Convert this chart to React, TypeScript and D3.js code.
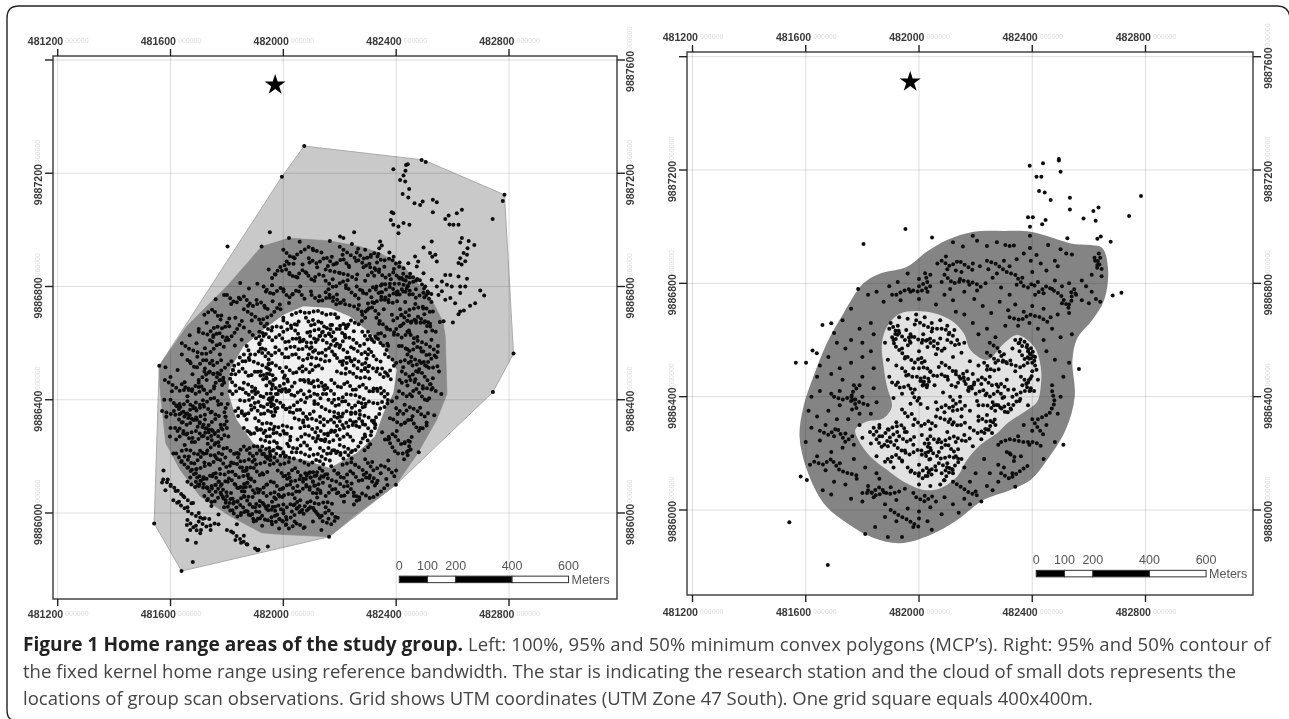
import React from 'react';
import * as d3 from 'd3';

// all map coordinates are stored as metres from this UTM origin
const BASE_E = 481000;
const BASE_N = 9886000;

const eastTicks = [481200, 481600, 482000, 482400, 482800];
const northTicks = [9886000, 9886400, 9886800, 9887200, 9887600];
const scaleStops = [0, 100, 200, 400, 600];

const mcp100: number[][] = [[1074,1296],[1497,1247],[1784,1124],[1816,563],[1743,427],[1399,100],[1162,-84],[639,-205],[542,-37],[560,520],[995,1188]];
const mcp95: number[][] = [[560,520],[657,659],[802,803],[923,941],[1020,971],[1165,961],[1272,941],[1343,918],[1426,871],[1526,753],[1565,677],[1574,624],[1580,421],[1544,330],[1473,206],[1399,100],[1251,-11],[1162,-84],[1059,-79],[995,-76],[923,-70],[811,-11],[705,59],[634,153],[583,247],[562,447]];
const mcp50: number[][] = [[1000,700],[1071,730],[1165,724],[1236,694],[1307,636],[1366,577],[1402,506],[1390,424],[1355,353],[1325,271],[1260,212],[1165,159],[1071,189],[976,200],[893,247],[834,330],[805,424],[811,506],[858,588],[929,647]];

const kernel95: number[][] = [[804,800],[863,835],[958,859],[1028,912],[1099,953],[1194,982],[1300,985],[1394,982],[1477,959],[1536,941],[1607,935],[1648,924],[1668,847],[1654,741],[1612,671],[1559,606],[1542,530],[1550,400],[1518,283],[1453,177],[1394,106],[1323,71],[1229,36],[1135,-35],[1040,-88],[934,-117],[840,-99],[745,-46],[663,24],[604,142],[578,259],[592,365],[627,471],[674,588],[733,694]];
const kernel50: number[][] = [[934,694],[1028,700],[1111,671],[1158,624],[1182,565],[1241,530],[1300,588],[1347,618],[1406,577],[1430,506],[1430,436],[1418,383],[1382,353],[1312,306],[1276,271],[1217,230],[1170,177],[1135,118],[1076,77],[1017,71],[946,100],[887,142],[828,189],[786,247],[775,283],[816,312],[875,324],[904,365],[887,436],[875,506],[869,588],[887,647]];

// scan locations. Only a sample of the thousands of observations:
// where dots touch and merge, one "chain" (flat e,n,e,n... list) stands in for that run of dots
const leftDots: number[][] = [
[1074,1296],[995,1188],[1390,1214],[1435,1229],[1441,1232],[1433,1209],[1426,1192],[1414,1176],[1432,1171],[1446,1144],[1423,1127],[1443,1114],[1465,1094],[1485,1088],[1494,1100],[1530,1106],[1544,1098],[1530,1062],[1384,1062],[1390,1059],[1381,1035],[1390,1018],[1408,1012],[1426,1024],[1447,1018],[1408,988],[1574,1038],[1586,1051],[1589,1019],[1603,1018],[1621,1018],[1633,1071],[1615,1059],[1742,1038],[1778,1102],[1784,1124],[1633,971],[1657,961],[1677,947],[1653,935],[1627,955],[1639,918],[1651,912],[1627,900],[1645,889],[1621,883],[1632,878],[1526,959],[1497,938],[1539,912],[1520,918],[1544,888],[1528,905],[1698,786],[1712,768],[1680,741],[1662,732],[1627,712],[1621,702],[1640,715],[1601,673],[1568,677],[1574,841],[1592,841],[1562,818],[1580,806],[1597,800],[1621,835],[1651,827],[1627,800],[1645,800],[1592,759],[1627,777],[1609,741],[1467,906],[1478,888],[1443,882],[1473,871],[1497,847],[1526,824],[1544,800],[1503,800],[1515,777],[1550,770],[1562,783],[1574,753],[1343,959],[1349,945],[1340,935],[1251,992],[1201,977],[1213,971],[952,992],[802,941],[1816,563],[1743,427],[1399,100],[1162,-84],[639,-205],[679,-173],[542,-37],[560,520],
[1020,971],[1058,958],[1165,961],[1243,950],[1106,928],[1135,920],[1172,905],[1210,912],[1265,933],[1290,930],[1310,905],[1337,915],[1376,920],[1391,905],[1412,885],[1012,888],[1040,900],[1068,878],[1093,885],[1120,868],[1158,872],[1186,880],[1232,873],[1258,890],[1284,868],[1305,880],[1332,885],[1358,870],[1392,862],[1425,845],[1448,833],[923,941],[972,842],[948,860],[995,856],[1022,843],[1050,832],[1082,848],[1110,820],[1142,838],[1175,826],[1200,848],[1228,822],[1262,842],[1290,820],[1322,838],[1350,808],[1381,826],[1410,832],[1440,802],[1470,790],[1500,762],[1525,745],[847,812],[878,793],[908,810],[938,782],[960,804],[1000,790],[1032,772],[1060,800],[1098,782],[1128,766],[1160,790],[1190,772],[1222,795],[1255,770],[1280,785],[1312,762],[1345,780],[1372,752],[1402,772],[1432,745],[1468,738],[1496,722],[1530,712],[1555,675],[760,755],[790,770],[815,738],[842,760],[875,732],[905,752],[935,725],[962,748],[990,720],[1020,742],[1268,735],[1298,718],[1322,742],[1356,720],[1385,700],[1414,720],[1445,698],[1470,680],[1500,702],[1520,668],[1540,640],
[700,650],[728,672],[752,628],[780,698],[808,660],[830,690],[860,655],[888,680],[915,640],[942,668],[668,628],[692,600],[722,582],[748,605],[775,560],[800,620],[828,592],[852,612],[1340,668],[1368,650],[1392,630],[1418,662],[1445,645],[1475,622],[1505,640],[1525,612],[1548,590],[1410,590],[1440,578],[1462,600],[1490,570],[1518,560],[1542,550],[640,560],[668,535],[695,552],[722,510],[748,538],[775,490],[582,515],[600,480],[625,505],[650,462],[678,490],[700,445],[728,470],[755,448],[782,420],[1425,515],[1452,535],[1478,498],[1508,518],[1530,476],[1552,500],[1412,470],[1440,450],[1468,472],[1495,440],[1522,455],[1560,420],[578,400],[605,430],[632,385],[660,412],[688,370],[715,398],[742,355],[770,382],[795,340],[585,340],[612,360],[640,320],[668,345],[696,305],[722,330],[750,290],[778,312],[805,270],[1402,408],[1430,382],[1456,412],[1485,372],[1510,398],[1535,345],[1378,335],[1405,350],[1432,320],[1458,342],[1486,300],[1508,320],[1350,285],[1375,262],[1402,290],[1430,250],[1455,268],[1480,215],
[598,270],[625,290],[650,240],[678,265],[705,220],[732,245],[760,198],[788,228],[815,178],[842,208],[870,160],[898,188],[925,140],[952,170],[610,210],[638,180],[665,200],[692,155],[720,178],[748,130],[775,155],[803,110],[830,135],[858,90],[885,118],[912,72],[940,100],[968,55],[995,85],[1022,125],[1050,95],[1078,140],[1105,110],[1135,130],[1165,95],[1195,140],[1225,110],[1255,170],[1285,135],[1315,180],[1345,140],[1372,185],[1400,150],[1428,190],[1300,90],[1330,105],[1365,120],[1250,60],[1215,40],[1190,70],[1150,20],[1120,55],[1090,15],[1060,45],[1030,5],[1000,30],[970,-10],[940,15],[910,-20],[880,30],[850,0],[820,50],[790,20],[760,75],[730,45],[700,95],[670,125],[1010,-40],[985,-55],[1040,-30],[1075,-50],[958,-30],[925,-45],[895,-30],[1105,-30],[1160,-20],[1135,-60],
[575,150],[590,118],[570,108],[600,95],[582,80],[618,78],[645,60],[630,40],[660,20],[680,35],[700,0],[715,-20],[745,25],[770,-5],[690,-45],[670,-60],[658,-42],[742,-60],[708,-60],[835,-40],[860,-80],[815,-65],[830,-95],[850,-105],[870,-110],[900,-125],[908,-132],[912,-130],[945,-118],[800,-60],[660,-95],[690,-105],[770,-40],
[1000,690],[1048,665],[1105,682],[1190,690],[1222,662],[958,645],[1072,612],[1128,625],[1218,630],[1250,642],[915,600],[972,585],[1090,560],[1150,555],[1240,585],[860,560],[948,525],[1068,500],[1098,525],[1222,510],[1392,520],[822,505],[942,492],[1002,478],[1092,430],[1152,420],[1385,395],[810,430],[960,385],[1110,385],[1320,320],[830,360],[1070,320],[1310,275],[880,285],[1240,215],[1000,210],[1170,165]
];

const leftChains: number[][] = [
[1490,1247,1505,1240],
// 50% core
[880,640,905,615,930,640,960,610,985,630,1010,600,1040,620,1070,595],[900,560,930,585,955,555,985,575,1010,545,1040,565,1062,540],[1080,690,1100,660,1130,680,1150,650,1175,670,1160,630,1190,610],[1280,640,1300,610,1330,625,1350,590,1375,600,1360,560,1390,540],[1250,580,1280,560,1305,580,1325,545,1355,530],[830,490,855,510,880,480,905,505,930,470,955,495,980,465],[1010,515,1040,490,1065,520,1095,495,1120,525,1150,500],[1180,560,1205,530,1230,555,1250,520,1280,500,1310,525],[820,420,850,445,875,415,900,440,925,405,950,430],[980,420,1010,440,1035,410,1060,435,1085,405,1115,425,1140,395],[1170,470,1200,440,1225,465,1250,430,1280,455,1310,425,1340,445,1370,420],[1160,400,1190,375,1215,400,1245,370,1270,395,1300,365],[840,370,870,345,895,375,925,345,950,365,975,335],[1000,380,1030,350,1055,370,1080,340,1110,360],[1130,340,1160,320,1185,345,1210,310,1240,330,1265,300,1290,320],[860,300,890,275,915,300,945,265,975,290],[1000,290,1030,265,1010,240,1045,225,1075,250,1100,220],[1120,300,1150,275,1175,295,1200,260,1230,280,1255,245],[1130,230,1160,205,1185,225,1215,190],[925,235,955,215,985,235,1010,200],[1060,185,1090,170,1120,190,1150,165],[1000,680,1030,660,1060,680],[1100,585,1130,560,1160,585,1190,550],[960,530,990,510,1015,470],[1290,270,1310,240,1280,215],[1140,640,1120,610,1095,625,1075,650],[1290,690,1265,665,1240,680,1220,650],[870,590,885,555,860,530,845,550],[1330,500,1355,480,1380,505],[1220,620,1200,590,1175,610],[1060,470,1090,460,1120,470,1150,450,1140,420],[940,450,965,470,950,395,980,370,960,340],[1200,340,1220,360,1260,350,1300,340,1330,310],
[1030,700,1060,712,1085,705,1120,715,1150,700,1180,705,1205,680],[930,625,915,595,925,565,950,540,945,505],[1000,640,1025,655,1050,640,1060,610,1090,600,1120,605],[1200,650,1215,625,1245,615,1270,590,1295,600],[1300,560,1290,530,1320,510,1350,510,1375,480,1390,460],[1190,500,1215,490,1240,500,1265,475,1290,480,1320,470],[1180,420,1160,440,1135,450,1110,445,1090,470,1060,470],[860,460,885,450,905,425,885,400,860,395,840,400],[920,500,945,470,970,440,1000,455,1025,470],[960,400,985,395,1005,365,1030,375,1060,400,1090,385],[1110,395,1135,375,1160,360,1190,355,1215,335],[1240,350,1270,360,1300,395,1330,385,1360,395],[900,335,925,315,950,320,975,300,1000,310,1030,300],[1060,300,1085,310,1110,290,1135,255,1165,250,1190,265],[1200,240,1225,230,1250,215,1270,240,1295,290],[1030,215,1060,215,1090,200,1120,210,1150,190,1180,180],[920,260,950,250,975,255,985,220],[870,330,855,355,830,335],[1340,350,1320,330,1330,300,1310,300],
[1010,580,1035,590,1060,575,1085,590,1110,565],[1140,610,1165,595,1190,590,1215,575,1240,560],[1300,500,1275,530,1250,545,1225,530,1200,520],[880,540,905,530,930,520,960,500],[1070,540,1095,550,1125,545,1150,535,1175,540],[1040,460,1015,425,990,440,965,410,935,395],[1180,400,1205,405,1225,420,1260,415,1290,400],[1320,440,1350,420,1375,395,1360,375,1330,365],[830,450,810,470,825,520,850,530],[885,380,910,395,925,370,945,385,975,365],[1040,335,1065,325,1095,335,1125,325,1150,305],[1215,300,1245,310,1270,335,1300,300,1320,280],[1180,320,1200,295,1165,285,1145,255,1115,265],[905,300,935,290,960,300,985,275,1020,285],[1050,260,1080,280,1105,265,1125,240],[1160,230,1190,210,1220,215,1245,190],[950,230,980,205,1020,195,1050,190],[1095,640,1125,650,1150,625,1180,640,1210,670,1240,650],[1300,640,1320,600,1340,640,1365,620],[920,670,945,650,970,660,1000,655],
// ring, south and southwest (densest)
[800,230,830,205,860,235,890,200,920,220,950,190,975,165],[740,170,770,195,800,160,830,180,860,145,890,165,920,130,950,150],[690,140,720,115,750,140,780,100,810,125,840,85,870,110,900,70],[930,90,960,115,990,80,1020,105,1050,70,1080,95,1110,65,1140,85],[800,60,830,35,860,60,890,20,920,45,950,5,980,30,1010,-15],[1040,30,1070,-5,1100,25,1130,-15,1160,10,1190,-20],[720,60,750,35,780,65,810,10,840,-15,870,10,900,-30,930,-10],[960,-40,990,-20,1020,-55,1050,-35,1080,-60],[650,200,680,170,710,200,740,230,770,250,800,285],[620,260,650,285,680,245,710,270,740,300,770,270],[630,330,660,310,690,335,720,295,750,325,780,350],[600,400,630,370,660,395,690,360,720,385,750,410,780,385],[640,455,670,430,700,460,730,420,760,445],[1180,150,1210,120,1240,150,1270,110,1300,130,1330,90],[1150,60,1180,90,1210,55,1240,85,1270,45],[980,150,1010,130,1040,160,1070,120,1100,150,1130,120,1160,140],[830,100,860,70,880,130,850,165],[960,40,990,60,1030,70,1060,20],[660,110,690,90,720,130],[1090,140,1110,100,1140,60],
[640,600,665,580,690,570,720,560,745,570,770,600,800,580],[700,640,730,630,760,660,790,650,810,690],[580,470,610,450,635,430,665,440,690,420,720,440],[570,360,600,350,625,345,650,360,665,330,700,340,730,350],[600,300,630,300,660,280,690,290,720,270,750,255,780,230],[640,220,665,225,690,205,720,215,750,200,775,215,800,190],[690,110,715,90,745,85,770,110,790,75,820,70],[780,300,800,320,790,360,805,390],[830,210,850,180,880,190,905,170,935,180,960,215],[860,60,890,55,910,90,940,60,965,75,1000,55],[1000,10,1030,35,1060,0,1090,45,1120,30,1150,40,1180,30],[820,10,850,30,880,-10,910,10,940,-30,970,-5],[1080,120,1110,130,1130,160,1160,120,1190,110,1220,90,1250,110],[1250,30,1280,70,1310,50,1340,70,1370,100],[1290,190,1320,150,1350,170,1380,150,1400,120],
[880,230,905,240,930,200,965,200,990,170,1020,180],[760,140,790,135,815,150,840,125,870,135,905,105],[1000,130,1030,110,1060,120,1090,90,1120,100,1150,110],[730,90,760,100,790,50,815,30,850,45],[900,20,930,30,965,20,990,-30,1020,-20,1050,0],[660,160,690,130,720,100,750,60],[620,210,650,170,680,150,710,160,750,180],[690,330,720,310,745,270,770,290,800,300],[620,380,650,340,690,390,730,370,770,340],[1210,170,1240,180,1270,160,1310,130,1340,110],[1110,10,1140,-30,1170,-40,1200,-10],[574,118,600,100,630,75,655,50,680,30],[610,45,640,25,669,0,700,-15,751,-23],[700,-30,730,-50,760,-35],[660,-25,685,-55,710,-75],[822,-70,850,-95,881,-117],
// ring, north and east
[1260,920,1290,895,1320,920,1350,890,1380,900,1410,870,1440,860],[1300,840,1330,860,1360,830,1390,850,1420,820,1450,845,1480,810],[1350,780,1380,800,1410,770,1440,795,1470,760,1500,780,1525,745],[1260,800,1290,770,1320,800,1350,760,1380,740,1410,750],[1090,900,1120,880,1150,905,1180,875,1210,900,1240,860],[1010,860,1040,830,1070,860,1100,825,1130,845],[1150,820,1180,795,1210,820,1240,780,1270,755],[930,800,960,770,990,795,1020,760,1050,790,1080,750],[800,770,830,740,860,765,890,730,920,745,950,715],[1100,770,1130,745,1160,765,1190,735,1220,755],[1390,680,1420,700,1450,670,1480,695,1510,660],[1330,690,1360,660,1390,640,1420,620,1450,640],[1420,590,1450,570,1480,590,1510,555],[1420,500,1450,480,1480,510,1510,470,1530,440],[1410,430,1440,410,1470,440,1500,400,1530,410],[1390,330,1420,310,1450,335,1480,290,1510,310],[1360,260,1390,280,1420,240,1450,260,1440,200],[740,610,770,640,800,605,830,640,860,690],[720,700,750,720,780,680],[660,540,690,510,720,545,750,520,780,540],[760,460,790,480,780,440],[1280,700,1310,730,1340,700],
[1400,370,1425,350,1450,375,1475,360,1500,340,1520,360],[1400,530,1430,540,1460,520,1490,530,1520,510,1550,520],[1420,460,1450,470,1490,450,1510,440,1545,430],[1440,640,1470,610,1500,600,1530,580,1560,560],[1400,650,1440,680,1480,670,1510,680,1530,640],[1370,260,1400,210,1430,210,1460,230],[1000,930,1030,900,1060,920,1090,940,1120,925],[1200,940,1240,910,1270,890,1300,870,1340,860],[1150,780,1180,760,1210,740,1250,730,1280,710],[1300,740,1340,750,1380,770,1420,790,1450,770],[960,830,990,870,1020,880,1050,880],[860,720,890,700,920,680,960,700,990,740],
[1420,830,1450,810,1480,830,1500,790,1530,770],[1330,800,1370,810,1410,810,1450,800],[1150,860,1190,850,1230,840,1270,820],[1440,560,1470,540,1510,530,1540,560],[1420,700,1450,720,1500,730,1530,700],[720,500,760,490,790,510,820,540],[700,470,740,500,790,460]
];

const rightDots: number[][] = [
[1494,1239],[1494,1234],[1438,1224],[1391,1215],[1500,1194],[1415,1176],[1432,1176],[1424,1126],[1444,1121],[1465,1094],[1533,1102],[1533,1061],[1784,1108],[1742,1038],[1634,1068],[1616,1055],[1581,1029],[1624,1021],[1447,1024],[1435,1009],[1385,1033],[1402,1033],[1392,1000],[952,992],[1046,962],[804,939],[659,653],[690,659],[624,563],[639,553],[565,520],[601,520],[1565,498],[1684,757],[1715,767],[1677,947],[1642,965],[1630,957],[1524,959],[582,118],[604,106],[542,-43],[678,-194],
[1190,968],[1120,945],[1155,930],[1205,950],[1240,932],[1275,945],[1305,935],[1320,932],[1335,934],[1392,968],[1392,925],[1456,935],[1500,920],[1520,905],[1540,902],[1480,880],[1490,860],[1095,895],[1065,870],[1100,850],[1130,845],[1150,840],[1190,870],[1215,860],[1245,850],[1275,835],[1300,880],[1320,860],[1345,885],[1370,905],[1395,880],[1415,900],[1430,870],[1450,845],[1480,810],[1505,790],[1575,810],[1590,790],[1610,830],[1645,825],[1610,770],[1625,745],[1640,735],[1600,730],[1622,880],[1635,905],[1640,890],[1630,865],[1040,830],[1000,815],[960,835],[925,805],[895,790],[1080,805],[1110,780],[1145,815],[1178,795],[1205,775],[1235,800],[1260,820],[1290,785],[1320,760],[1345,795],[1365,820],[1400,840],[1420,805],[1440,765],[1470,780],[1530,800],[1555,760],[1575,740],[1505,730],[1530,695],[1490,690],[1465,680],[1440,710],[1400,720],[1370,700],[1340,725],[1315,705],[1285,735],[1255,695],[1225,720],[1195,745],[1160,770],[1120,740],[1090,760],[1060,725],[1030,770],[1000,745],[970,770],[935,740],[905,760],[875,735],[850,770],[820,760],[785,780],[760,710],[730,670],[790,640],[830,660],[840,620],[800,590],[760,600],[740,570],[700,625],[710,590],[680,540],[650,510],[640,470],[690,480],[720,500],[760,520],[800,540],[830,560],[840,500],[800,470],[770,440],[730,460],[720,420],[690,410],[650,420],[620,400],[610,350],[640,330],[680,350],[720,370],[760,385],[800,400],[840,430],[850,380],[830,340],[790,340],[750,320],[710,320],[670,300],[620,290],[600,240],[650,245],[700,260],[740,270],[770,230],[790,300],[840,290],[730,220],[690,205],[640,190],[615,160],[670,140],[720,165],[770,180],[810,150],[850,130],[900,170],[700,100],[660,70],[690,55],[740,90],[780,110],[820,85],[860,110],[900,80],[950,75],[980,60],[1020,50],[1060,30],[1090,45],[1120,20],[1160,40],[1200,65],[1240,85],[1280,100],[1340,82],[760,40],[800,30],[840,45],[880,20],[920,35],[960,5],[1000,-5],[1040,10],[1080,-15],[1045,-70],[1030,-40],[920,-40],[880,-25],[845,-60],[810,-85],[890,-95],[940,-95],[980,-60],[1000,-30],[1140,-10],[1180,20],[1220,30],[1260,70],[1440,180],[1480,240],[1510,230],[1450,300],[1490,340],[1500,400],[1470,440],[1510,470],[1530,520],[1480,530],[1450,560],[1500,610],[1540,620],[1470,640],[1440,600],[1420,640],[1390,660],[1350,650],[1305,650],[1270,610],[1240,640],[1210,620],[1190,660],[1160,690],[1130,700],[1400,280],[1370,300],[1350,260],[1390,230],[1360,190],[1320,200],[1280,230],[1300,150],[1330,130],[1280,160],[1250,130],[1230,180],[1200,130],[1180,100],
[930,680],[960,675],[990,690],[1020,680],[1045,660],[1075,670],[1100,650],[1125,635],[895,640],[925,650],[955,635],[985,655],[1015,620],[1045,630],[1075,605],[1105,620],[1135,600],[1160,590],[880,590],[910,600],[940,570],[970,590],[1000,560],[1030,575],[1060,550],[1090,570],[1120,540],[1150,555],[1180,525],[1210,510],[1240,495],[1270,520],[1300,550],[1330,570],[1355,590],[1385,560],[1410,540],[890,530],[920,510],[950,535],[980,500],[1010,520],[1040,490],[1070,505],[1100,470],[1130,490],[1160,455],[1190,480],[1220,445],[1250,470],[1280,435],[1310,460],[1340,490],[1370,510],[1400,490],[1420,460],[1395,430],[1365,440],[1335,425],[895,470],[925,450],[955,475],[985,425],[1055,440],[1085,415],[1115,440],[1145,400],[1175,420],[1205,385],[1235,405],[1265,370],[1295,395],[1325,355],[1355,385],[1385,370],[910,395],[940,410],[970,375],[1000,395],[1030,360],[1060,380],[1090,345],[1120,365],[1150,330],[1180,350],[1210,315],[1240,335],[1270,300],[860,300],[890,285],[920,310],[950,275],[980,300],[1010,265],[1040,285],[1070,250],[1100,275],[1130,240],[1160,265],[1190,225],[1220,250],[800,255],[830,235],[860,260],[890,225],[920,245],[950,210],[980,230],[1010,195],[1040,180],[1070,205],[1100,165],[1130,190],[1160,150],[850,190],[880,170],[910,150],[940,175],[970,135],[1000,160],[1030,120],[1060,140],[1090,105],[1120,130],[1000,90],[1040,85],[1075,90]
];

const rightChains: number[][] = [
[1005,455,1022,435,1040,460,1020,470,1010,440,1035,430],[1165,445,1185,425,1195,445,1170,420],[1030,250,1040,220,1025,190,1045,170],[1020,235,1048,205],[930,625,950,600,975,615,960,580],[905,610,935,640],[1355,560,1375,530,1395,550,1380,510],[1360,470,1385,450,1400,475,1375,440,1395,420],[1110,400,1130,375,1150,385],[1530,725,1542,745,1535,765,1548,780,1555,755],[1385,785,1400,800,1415,785],[1620,890,1640,870,1628,855,1648,850],[960,540,985,520,1005,540,1030,515],[1200,410,1225,425,1250,400,1280,420,1305,395],[1260,380,1290,360,1320,375],[985,320,1010,295,1035,315,1060,295],[930,260,960,240,985,260],[1080,220,1100,235,1120,205,1150,220],[1180,290,1210,270,1240,290,1265,265],[860,290,840,265,815,285],[820,70,850,50,880,65],[990,45,1020,30,1050,50],[1310,205,1340,185,1330,160],[1400,320,1420,290,1440,265],[1010,590,1040,605,1070,585],[940,355,960,330,985,345],[1110,320,1140,295,1165,310],[1130,435,1150,470,1180,460],[1000,130,1030,150,1050,115],[890,180,920,195,950,160],[1250,590,1280,570,1300,520,1330,530],[1400,520,1380,590,1345,610],[790,440,760,410,780,360,750,350],[1000,790,1030,805,1020,840],
[900,660,925,620,910,585,935,560,960,530],[990,670,1020,650,1050,640,1090,640,1120,615],[970,620,1000,600,1030,600,1055,575,1085,560],[1000,500,1025,505,1055,470,1085,480,1110,450],[905,450,935,430,965,440,985,395,1010,370],[1065,355,1095,370,1120,350,1150,355,1170,375],[1195,450,1225,470,1255,440,1290,445,1320,420],[1240,555,1270,530,1305,520,1340,510,1370,500],[1340,600,1360,580,1400,570,1410,510,1420,480],[1280,370,1310,340,1340,380,1370,400],[900,240,930,215,965,195,1000,215,1025,200],[850,250,870,220,900,260,930,280],[960,150,985,130,1015,110,1040,140,1070,165,1100,150],[1040,260,1070,235,1100,250,1125,260,1160,240,1190,260],[1150,180,1125,155,1100,125,1085,100],[1210,330,1240,310,1270,320,1230,270],
[1100,600,1130,580,1150,590],[940,500,970,470,1000,470,1030,440],[1080,520,1110,500,1140,470,1170,490],[1230,520,1260,490,1290,500],[1330,400,1370,420,1410,420],[870,260,900,290,940,300,960,270],[1050,200,1080,180,1110,190,1140,180],[1080,130,1110,150,1130,130],[1060,330,1090,320,1120,300],[1210,370,1240,370,1270,350],
[700,400,730,390,760,400,790,380,820,370],[650,280,680,265,710,290,740,240,770,265],[630,170,660,160,690,180,720,140,750,130,790,120],[800,60,830,60,860,80,890,55,930,65],[900,0,930,-20,960,-35,1000,-60],[1120,100,1150,80,1180,60,1210,50],[1290,130,1320,110,1360,140,1390,160],[1290,240,1320,250,1370,240,1410,240,1440,220],[1420,320,1460,340,1480,380,1470,420],[1080,880,1110,860,1140,880,1170,860,1200,840],[1240,880,1270,870,1310,840,1340,830,1370,790],[1090,830,1120,800,1160,810,1200,800,1230,780],[1320,680,1360,670,1390,690,1430,680,1460,660],[1410,760,1450,790,1500,760,1530,710],[920,760,960,780,1000,770,1040,790]
];

const W = 1289;
const H = 719;
const blackStar = d3.symbol(d3.symbolStar, 136)();

type PanelProps = {
  frame: [number, number, number, number];
  xRange: [number, number];
  yRange: [number, number];
  topY: number;
  bottomY: number;
  star: [number, number];
  barStart: [number, number];
  children?: (area: (p: number[][]) => string, smooth: (p: number[][]) => string) => React.ReactNode;
  dots: number[][];
  chains: number[][];
  leftLabelX: number;
  rightLabelX: number;
};

function Panel({ frame, xRange, yRange, topY, bottomY, star, barStart, children, dots, chains, leftLabelX, rightLabelX }: PanelProps) {
  const x = d3.scaleLinear().domain([481200, 482800]).range(xRange);
  const y = d3.scaleLinear().domain([9886000, 9887600]).range(yRange);
  const px = (d: number[]) => x(BASE_E + d[0]);
  const py = (d: number[]) => y(BASE_N + d[1]);
  const area = (p: number[][]) => d3.line<number[]>().x(px).y(py).curve(d3.curveLinearClosed)(p) as string;
  const smooth = (p: number[][]) => d3.line<number[]>().x(px).y(py).curve(d3.curveCatmullRomClosed.alpha(0.5))(p) as string;
  const run = d3.line<number[]>().x(px).y(py);
  const toPairs = (flat: number[]) => flat.flatMap((v, i) => (i % 2 === 0 ? [[v, flat[i + 1]]] : []));
  const [fx0, fy0, fx1, fy1] = frame;
  const labelFont = { fontFamily: '"Liberation Sans", Arial, sans-serif', fontSize: 10.6, fontWeight: 700, fill: '#3a3a3a' };
  const ghostFont = { fontFamily: '"Liberation Sans", Arial, sans-serif', fontSize: 7, fill: '#dcdcdc' };
  const barScale = d3.scaleLinear().domain([0, 600]).range([x(barStart[0]), x(barStart[0] + 600)]);
  const barY = y(barStart[1]);
  return (
    <g>
      {children && children(area, smooth)}
      {eastTicks.map((t) => (
        <line key={t} x1={x(t)} x2={x(t)} y1={fy0} y2={fy1} stroke="#dedede" strokeWidth={1} style={{ mixBlendMode: 'multiply' }} />
      ))}
      {northTicks.map((t) => (
        <line key={t} x1={fx0} x2={fx1} y1={y(t)} y2={y(t)} stroke="#dedede" strokeWidth={1} style={{ mixBlendMode: 'multiply' }} />
      ))}
      <g filter="url(#soft)">
        {dots.map((d, i) => (
          <circle key={i} cx={px(d)} cy={py(d)} r={2} fill="#0c0c0c" />
        ))}
        {chains.map((c, i) => (
          <path key={i} d={run(toPairs(c)) as string} fill="none" stroke="#0c0c0c" strokeWidth={4} strokeDasharray="0 4.6" strokeLinecap="round" strokeLinejoin="round" />
        ))}
      </g>
      <path d={blackStar} transform={`translate(${x(star[0])},${y(star[1])})`} fill="#000" />
      <rect x={fx0} y={fy0} width={fx1 - fx0} height={fy1 - fy0} fill="none" stroke="#444" strokeWidth={1.5} />
      {eastTicks.map((t) => (
        <g key={t}>
          <line x1={x(t)} x2={x(t)} y1={fy0 - 7} y2={fy0} stroke="#222" strokeWidth={1.4} />
          <line x1={x(t)} x2={x(t)} y1={fy1} y2={fy1 + 7} stroke="#222" strokeWidth={1.4} />
          <text x={x(t) + 5.5} y={topY} textAnchor="end" {...labelFont}>{t}</text>
          <text x={x(t) + 7.5} y={topY - 2} {...ghostFont}>000000</text>
          <text x={x(t) + 5.5} y={bottomY} textAnchor="end" {...labelFont}>{t}</text>
          <text x={x(t) + 7.5} y={bottomY - 2} {...ghostFont}>000000</text>
        </g>
      ))}
      {northTicks.map((t) => (
        <g key={t}>
          <line x1={fx0 - 8} x2={fx0} y1={y(t)} y2={y(t)} stroke="#222" strokeWidth={1.4} />
          <line x1={fx1} x2={fx1 + 8} y1={y(t)} y2={y(t)} stroke="#222" strokeWidth={1.4} />
          {[leftLabelX, rightLabelX].filter((lx) => t !== 9887600 || lx === rightLabelX).map((lx) => (
            <g key={lx}>
              <text transform={`translate(${lx},${y(t) + 32}) rotate(-90)`} {...labelFont}>{t}</text>
              <text transform={`translate(${lx - 2},${y(t) - 10}) rotate(-90)`} {...ghostFont}>000000</text>
            </g>
          ))}
        </g>
      ))}
      {d3.pairs(scaleStops).map(([a, b], i) => (
        <rect key={a} x={barScale(a)} y={barY} width={barScale(b) - barScale(a)} height={6.5} fill={i % 2 === 0 ? '#000' : '#fff'} stroke="#333" strokeWidth={1} />
      ))}
      {scaleStops.map((s) => (
        <text key={s} x={barScale(s)} y={barY - 6} textAnchor="middle" fontFamily='"Liberation Sans", Arial, sans-serif' fontSize={12.5} fill="#555">{s}</text>
      ))}
      <text x={barScale(600) + 3} y={barY + 7.5} fontFamily='"Liberation Sans", Arial, sans-serif' fontSize={12.5} fill="#555">Meters</text>
    </g>
  );
}

const captionLines = [
  [['Figure 1 Home range areas of the study group.', true], [' Left: 100%, 95% and 50% minimum convex polygons (MCP\u2019s). Right: 95% and 50% contour of', false]],
  [['the fixed kernel home range using reference bandwidth. The star is indicating the research station and the cloud of small dots represents the', false]],
  [['locations of group scan observations. Grid shows UTM coordinates (UTM Zone 47 South). One grid square equals 400x400m.', false]],
] as [string, boolean][][];

export default function App() {
  const r = 12;
  const border = `M14,${H + 1} Q7,${H + 1} 7,${H - 9} V${6 + r} Q7,6 ${7 + r},6 H${W - r} Q${W},6 ${W + 1},${6 + r}`;
  return (
    <svg width={W} height={H} style={{ position: 'absolute', left: 0, top: 0, display: 'block', background: '#fff' }}>
      <defs>
        <filter id="soft" x="0" y="0" width="100%" height="100%">
          <feGaussianBlur stdDeviation={0.5} />
        </filter>
      </defs>
      <path d={border} fill="none" stroke="#222" strokeWidth={1.4} />
      <Panel
        frame={[53, 56, 617, 599]}
        xRange={[57.7, 509]}
        yRange={[513, 60]}
        topY={45}
        bottomY={618}
        star={[481971, 9887512]}
        barStart={[482411, 9885777]}
        dots={leftDots}
        chains={leftChains}
        leftLabelX={42}
        rightLabelX={634}
      >
        {(area) => (
          <g>
            <path d={area(mcp100)} fill="#c9c9c9" stroke="#aaa" strokeWidth={1} />
            <path d={area(mcp95)} fill="#8b8b8b" stroke="#888" strokeWidth={0.6} />
            <path d={area(mcp50)} fill="#f0f0f0" />
          </g>
        )}
      </Panel>
      <Panel
        frame={[687, 52, 1253, 595]}
        xRange={[692.5, 1145.5]}
        yRange={[510, 56.7]}
        topY={41}
        bottomY={616}
        star={[481969, 9887511]}
        barStart={[482414, 9885787]}
        dots={rightDots}
        chains={rightChains}
        leftLabelX={676}
        rightLabelX={1272}
      >
        {(_area, smooth) => (
          <g>
            <path d={smooth(kernel95)} fill="#848484" />
            <path d={smooth(kernel50)} fill="#e2e2e2" />
          </g>
        )}
      </Panel>
      {captionLines.map((line, i) => (
        <text key={i} x={23} y={651 + i * 27} fontFamily='"Open Sans", sans-serif' fill="#444">
          {line.map(([s, bold], j) => (
            <tspan key={j} fontSize={bold ? 19.1 : 18.5} letterSpacing={i === 0 && !bold ? 0.13 : 0} fontWeight={bold ? 700 : 400} fill={bold ? '#222' : '#444'}>{s}</tspan>
          ))}
        </text>
      ))}
    </svg>
  );
}
